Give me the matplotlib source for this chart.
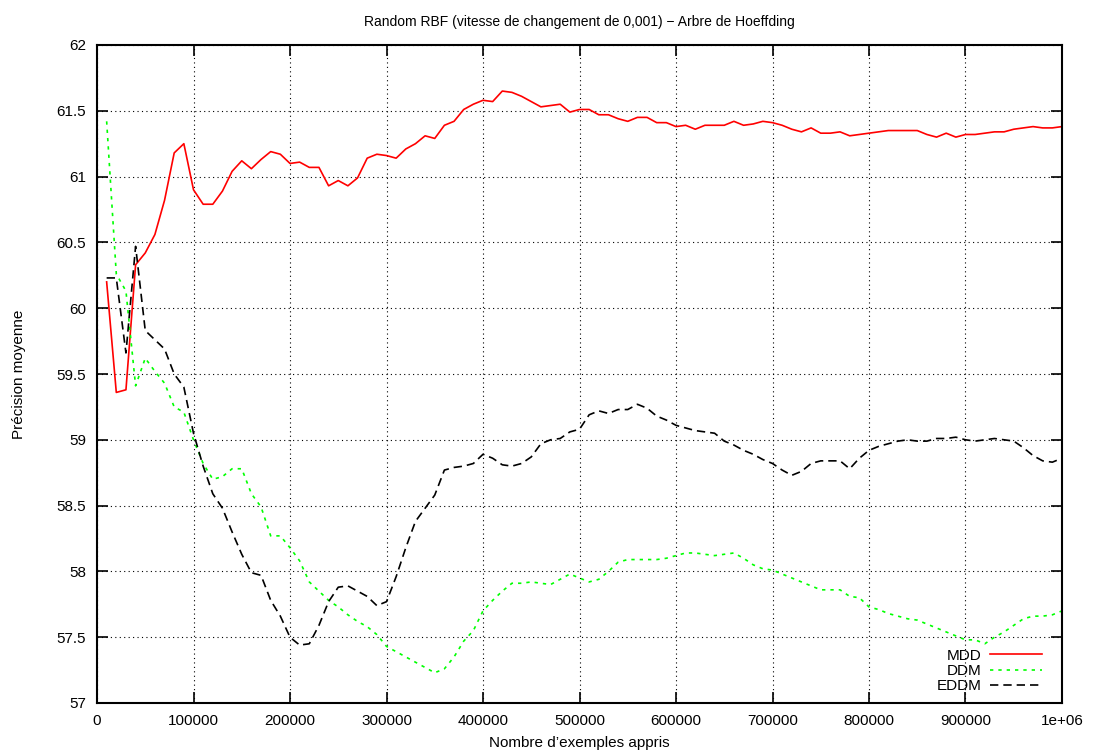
import matplotlib
matplotlib.use("Agg")
import matplotlib.pyplot as plt
from matplotlib.ticker import FixedLocator, FixedFormatter

plt.rcParams['font.family'] = ['Liberation Sans', 'DejaVu Sans']

x_values = [i * 10000 for i in range(1, 101)]

mdd = [60.20, 59.36, 59.38, 60.33, 60.42, 60.56, 60.82, 61.18, 61.25, 60.90,
       60.79, 60.79, 60.89, 61.04, 61.12, 61.06, 61.13, 61.19, 61.17, 61.10,
       61.11, 61.07, 61.07, 60.93, 60.97, 60.93, 60.99, 61.14, 61.17, 61.16,
       61.14, 61.21, 61.25, 61.31, 61.29, 61.39, 61.42, 61.51, 61.55, 61.58,
       61.57, 61.65, 61.64, 61.61, 61.57, 61.53, 61.54, 61.55, 61.49, 61.51,
       61.51, 61.47, 61.47, 61.44, 61.42, 61.45, 61.45, 61.41, 61.41, 61.38,
       61.39, 61.36, 61.39, 61.39, 61.39, 61.42, 61.39, 61.40, 61.42, 61.41,
       61.39, 61.36, 61.34, 61.37, 61.33, 61.33, 61.34, 61.31, 61.32, 61.33,
       61.34, 61.35, 61.35, 61.35, 61.35, 61.32, 61.30, 61.33, 61.30, 61.32,
       61.32, 61.33, 61.34, 61.34, 61.36, 61.37, 61.38, 61.37, 61.37, 61.38]

ddm = [61.42, 60.26, 60.13, 59.41, 59.62, 59.52, 59.43, 59.25, 59.21, 59.00,
       58.82, 58.70, 58.72, 58.78, 58.78, 58.59, 58.49, 58.27, 58.27, 58.18,
       58.08, 57.92, 57.85, 57.78, 57.73, 57.67, 57.62, 57.58, 57.52, 57.43,
       57.39, 57.35, 57.31, 57.27, 57.23, 57.26, 57.35, 57.47, 57.55, 57.70,
       57.78, 57.85, 57.91, 57.91, 57.92, 57.91, 57.90, 57.94, 57.98, 57.95,
       57.92, 57.94, 58.00, 58.07, 58.09, 58.09, 58.09, 58.09, 58.10, 58.12,
       58.14, 58.14, 58.13, 58.12, 58.13, 58.14, 58.10, 58.05, 58.02, 58.01,
       57.98, 57.95, 57.92, 57.89, 57.86, 57.86, 57.86, 57.81, 57.80, 57.73,
       57.71, 57.68, 57.66, 57.64, 57.63, 57.60, 57.57, 57.54, 57.51, 57.48,
       57.48, 57.45, 57.50, 57.54, 57.59, 57.64, 57.66, 57.66, 57.67, 57.70]

eddm = [60.23, 60.23, 59.66, 60.47, 59.83, 59.76, 59.69, 59.50, 59.40, 59.05,
        58.80, 58.59, 58.48, 58.30, 58.13, 57.99, 57.97, 57.78, 57.66, 57.50,
        57.44, 57.45, 57.59, 57.77, 57.88, 57.89, 57.85, 57.81, 57.74, 57.77,
        57.96, 58.18, 58.38, 58.48, 58.58, 58.77, 58.79, 58.80, 58.82, 58.89,
        58.86, 58.81, 58.80, 58.82, 58.87, 58.97, 59.00, 59.01, 59.06, 59.08,
        59.19, 59.22, 59.20, 59.23, 59.23, 59.27, 59.24, 59.18, 59.15, 59.11,
        59.09, 59.07, 59.06, 59.05, 58.99, 58.96, 58.92, 58.89, 58.85, 58.82,
        58.77, 58.73, 58.76, 58.82, 58.84, 58.84, 58.84, 58.78, 58.86, 58.92,
        58.95, 58.97, 58.99, 59.00, 58.99, 58.99, 59.01, 59.01, 59.02, 59.00,
        58.99, 59.00, 59.01, 59.00, 58.99, 58.94, 58.88, 58.84, 58.83, 58.86]

x_ticks = [0, 100000, 200000, 300000, 400000, 500000, 600000, 700000, 800000, 900000, 1000000]
x_tick_labels = ['0', '100000', '200000', '300000', '400000', '500000', '600000',
                 '700000', '800000', '900000', '1e+06']
y_ticks = [57, 57.5, 58, 58.5, 59, 59.5, 60, 60.5, 61, 61.5, 62]
y_tick_labels = ['57', '57.5', '58', '58.5', '59', '59.5', '60', '60.5', '61', '61.5', '62']

title = 'Random RBF (vitesse de changement de 0,001) \u2212 Arbre de Hoeffding'
xlabel = 'Nombre d\u2019exemples appris'
ylabel = 'Précision moyenne'

fig = plt.figure(figsize=(10.94, 7.56), dpi=100)
ax = fig.add_axes([97 / 1094, 1 - 703 / 756, (1062 - 97) / 1094, (703 - 45) / 756])

ax.plot(x_values, mdd, color='#ff0000', lw=1.2, ls='-', label='MDD')
ax.plot(x_values, ddm, color='#00ff00', lw=1.2, ls=(0, (2, 3)), label='DDM')
ax.plot(x_values, eddm, color='#000000', lw=1.2, ls=(0, (5, 3)), label='EDDM')

ax.set_xlim(0, 1000000)
ax.set_ylim(57, 62)
ax.xaxis.set_major_locator(FixedLocator(x_ticks))
ax.xaxis.set_major_formatter(FixedFormatter(x_tick_labels))
ax.yaxis.set_major_locator(FixedLocator(y_ticks))
ax.yaxis.set_major_formatter(FixedFormatter(y_tick_labels))

ax.grid(True, color='black', ls=(0, (1, 3)), lw=0.8)
ax.tick_params(direction='in', length=8, width=1.2, top=True, right=True,
               labelsize=11, pad=8, colors='black')
for s in ax.spines.values():
    s.set_linewidth(1.5)

ax.set_title(title, fontsize=10, pad=14)
ax.set_xlabel(xlabel, fontsize=11, labelpad=6)
ax.set_ylabel(ylabel, fontsize=11, labelpad=22)

leg = ax.legend(loc='lower right', frameon=False, markerfirst=False, fontsize=11,
                handlelength=3.4, handletextpad=0.6, labelspacing=0.08,
                borderaxespad=0.25, bbox_to_anchor=(0.99, 0.0))
for t in leg.get_texts():
    t.set_ha('right')

fig.savefig('out.png', dpi=100)
